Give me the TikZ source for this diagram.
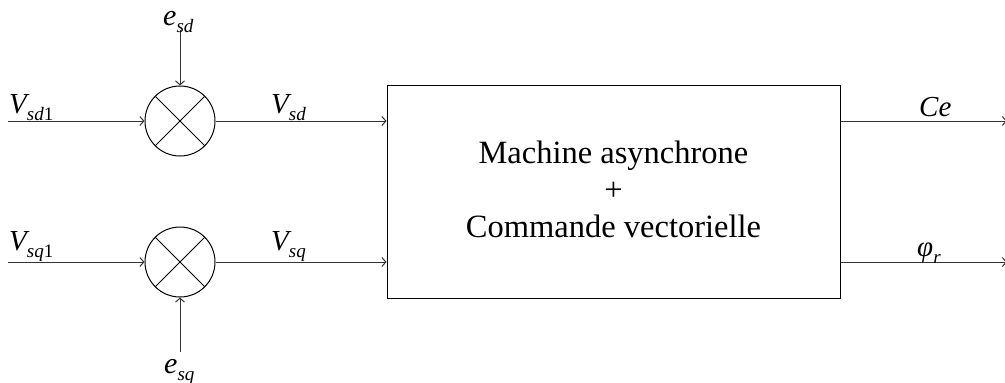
\documentclass[tikz,border=0pt]{standalone}
\usepackage{fontspec}
\setmainfont{Liberation Serif}
\usetikzlibrary{arrows.meta}
\newcommand\mysub[1]{\raisebox{-7pt}{\fontsize{19}{19}\selectfont #1}}
\begin{document}
\begin{tikzpicture}[x=1pt,y=-1pt,
  sumj/.style={draw, circle, minimum size=70pt, inner sep=0pt, line width=1pt},
  conn/.style={draw=black!80, line width=1pt, -{Straight Barb[length=4pt,width=9pt]}},
  lbl/.style={font=\fontsize{29}{30}\selectfont\itshape, inner sep=0pt, anchor=base west},
  elbl/.style={font=\fontsize{30}{30}\selectfont\itshape, inner sep=0pt, anchor=base west},
  bigbox/.style={draw, line width=1pt, minimum width=453pt, minimum height=213pt},
  boxtext/.style={align=center, inner sep=0pt, font=\fontsize{32.5}{37}\selectfont}]
\clip (0,0) rectangle (1005,383);
% summing junctions
\node[sumj] (s1) at (180,121) {};
\node[sumj] (s2) at (180,262) {};
\draw[line width=1pt] (s1.45) -- (s1.225) (s1.135) -- (s1.315);
\draw[line width=1pt] (s2.45) -- (s2.225) (s2.135) -- (s2.315);
% main block
\node[bigbox] (box) at (613.5,191.5) {};
\node[boxtext] (boxlbl) at (613.5,189.5) {Machine asynchrone\\+\\Commande vectorielle};
% free ends
\coordinate (in1) at (8,121);
\coordinate (in2) at (8,262);
\coordinate (e1) at (180,30);
\coordinate (e2) at (180,352);
\coordinate (out1) at (1007,121);
\coordinate (out2) at (1007,262);
% connectors
\draw[conn] (in1) -- (s1.west);
\draw[conn] (in2) -- (s2.west);
\draw[conn] (e1) -- (s1.north);
\draw[conn] (e2) -- (s2.south);
\draw[conn] (s1.east) -- (s1.east -| box.west);
\draw[conn] (s2.east) -- (s2.east -| box.west);
\draw[conn] (box.east |- s1) -- (out1);
\draw[conn] (box.east |- s2) -- (out2);
% labels
\node[lbl] (lvsd1) at (9,113) {V\mysub{sd\upshape1}};
\node[lbl] (lvsq1) at (9,250) {V\mysub{sq\upshape1}};
\node[lbl] (lvsd) at (271,113) {V\mysub{sd}};
\node[lbl] (lvsq) at (271,250) {V\mysub{sq}};
\node[elbl] (lesd) at (163,25) {e\mysub{sd}};
\node[elbl] (lesq) at (164,373) {e\mysub{sq}};
\node[lbl] (lce) at (919,116) {Ce};
\node[lbl] (lphi) at (917,256) {φ\mysub{r}};
\end{tikzpicture}
\end{document}
